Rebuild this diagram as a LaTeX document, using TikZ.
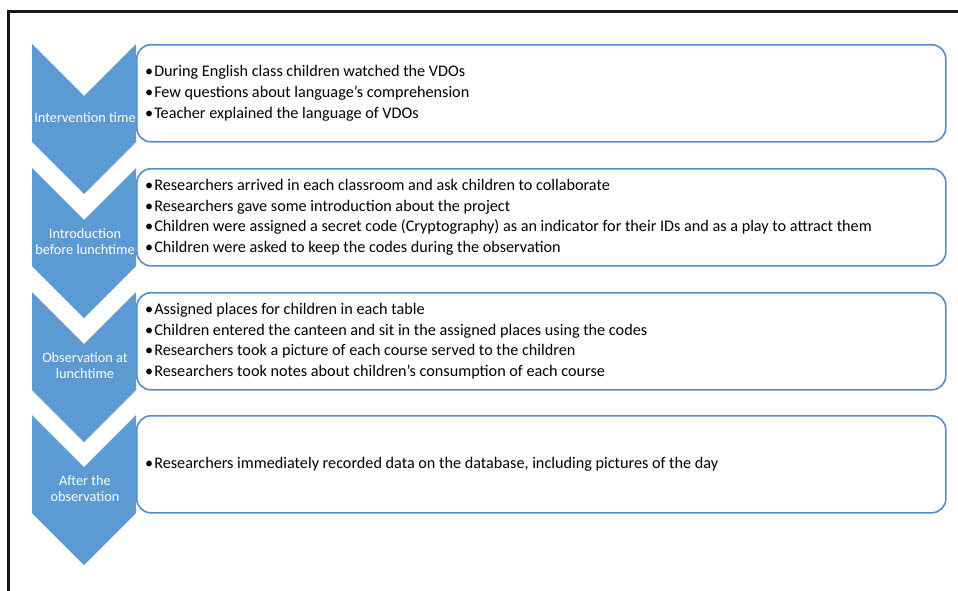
\documentclass[tikz,border=0pt]{standalone}
\usepackage{fontspec}
\setmainfont{Carlito}
\usepackage{xcolor}
\usetikzlibrary{positioning,calc}
\definecolor{stepblue}{RGB}{91,154,211}
\definecolor{edgeblue}{RGB}{84,141,204}
\tikzstyle{phase} = [draw=edgeblue, line width=1.6pt, rounded corners=14pt, fill=white,
    minimum width=809pt, minimum height=97pt, anchor=north west, inner sep=0pt]
\tikzstyle{items} = [align=left, anchor=west, inner sep=0pt,
    font=\fontsize{16.2}{20.7}\selectfont]
\tikzstyle{tag} = [text=white, align=center, inner sep=0pt,
    font=\fontsize{14.3}{16}\selectfont]
\tikzstyle{frame} = [line width=3pt, black!90]
% chevron with its top edge at y = #1
\newcommand{\chevron}[1]{\fill[stepblue] (32,#1) -- ++(52,52) -- ++(52,-52) -- ++(0,98) -- ++(-52,52) -- ++(-52,-52) -- cycle;}
\newcommand{\bul}{\textbullet\kern1pt}

\begin{document}
\begin{tikzpicture}[x=1pt, y=-1pt]
    \useasboundingbox (0,0) rectangle (958,591);
    \draw [frame] (8.5,591) -- (8.5,11.3) -- (958,11.3);

    \chevron{44}
    \chevron{168}
    \chevron{292}
    \chevron{415}

    \node (interv) [phase] at (136,44) {};
    \node (intro) [phase] at (136,168) {};
    \node (observ) [phase] at (136,292) {};
    \node (after) [phase] at (136,415) {};

    \node (interv_tag) [tag] at (85,118) {Intervention time};
    \node (intro_tag) [tag] at (85,242) {Introduction\\before lunchtime};
    \node (observ_tag) [tag] at (85,366) {Observation at\\lunchtime};
    \node (after_tag) [tag] at (85,489) {After the\\observation};

    \node (interv_list) [items, right=9pt of interv.west] {\bul During English class children watched the VDOs\\
        \bul Few questions about language's comprehension\\
        \bul Teacher explained the language of VDOs};
    \node (intro_list) [items, right=9pt of intro.west] {\bul Researchers arrived in each classroom and ask children to collaborate\\
        \bul Researchers gave some introduction about the project\\
        \bul Children were assigned a secret code (Cryptography) as an indicator for their IDs and as a play to attract them\\
        \bul Children were asked to keep the codes during the observation};
    \node (observ_list) [items, right=9pt of observ.west] {\bul Assigned places for children in each table\\
        \bul Children entered the canteen and sit in the assigned places using the codes\\
        \bul Researchers took a picture of each course served to the children\\
        \bul Researchers took notes about children's consumption of each course};
    \node (after_list) [items, right=9pt of after.west] {\bul Researchers immediately recorded data on the database, including pictures of the day};
\end{tikzpicture}
\end{document}
